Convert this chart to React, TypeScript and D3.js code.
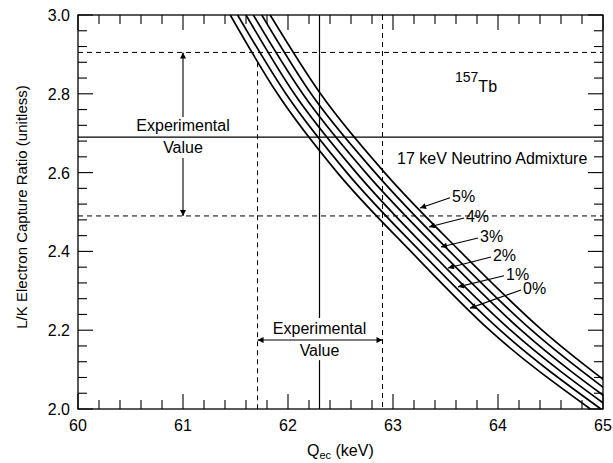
import React from 'react';
import * as d3 from 'd3';

const ratioLevels = [3.0, 2.8, 2.6, 2.4, 2.2, 2.0];

// Q_ec (keV) of each admixture curve at the ratio levels above
const q0 = [61.45, 61.90, 62.47, 63.17, 63.92, 64.88];
const q1 = [61.52, 61.98, 62.56, 63.26, 64.02, 64.98];
const q2 = [61.60, 62.06, 62.65, 63.35, 64.12, 65.08];
const q3 = [61.67, 62.14, 62.74, 63.45, 64.22, 65.18];
const q4 = [61.75, 62.22, 62.83, 63.54, 64.32, 65.28];
const q5 = [61.83, 62.31, 62.92, 63.64, 64.42, 65.38];
const curves = [q0, q1, q2, q3, q4, q5];

const admixLabels = ['0%', '1%', '2%', '3%', '4%', '5%'];
// where each label arrow touches its curve
const tipQ = [63.733, 63.619, 63.524, 63.457, 63.343, 63.257];
const tipR = [2.256, 2.310, 2.358, 2.411, 2.462, 2.510];
// where each arrow starts, next to its label
const tailQ = [64.219, 64.057, 63.933, 63.81, 63.676, 63.543];
const tailR = [2.302, 2.338, 2.386, 2.434, 2.485, 2.536];

// experimental values
const expRatio = 2.69;
const expRatioLow = 2.49;
const expRatioHigh = 2.905;
const expQ = 62.3;
const expQLow = 61.71;
const expQHigh = 62.9;

const xTickLabels = [60, 61, 62, 63, 64, 65];
const yTickLabels = [2.0, 2.2, 2.4, 2.6, 2.8, 3.0];

const W = 613;
const H = 463;
const font = '"Liberation Sans", Arial, Helvetica, sans-serif';

export default function App() {
  const left = 78, right = 603, top = 15, bottom = 409;

  const x = d3.scaleLinear().domain([60, 65]).range([left, right]);
  const y = d3.scaleLinear().domain([2, 3]).range([bottom, top]);

  const line = d3.line<[number, number]>()
    .x(d => x(d[0]))
    .y(d => y(d[1]))
    .curve(d3.curveMonotoneX);

  const xMinor = d3.range(0, 26).map(i => 60 + i * 0.2);
  const yMinor = d3.range(0, 26).map(i => 2 + i * 0.04);
  const isMajor = (v: number, step: number) => Math.abs(v / step - Math.round(v / step)) < 1e-6;

  const minorLen = 9, majorLen = 15;

  return (
    <svg width={W} height={H} style={{ position: 'absolute', left: 0, top: 0, background: '#fff' }}
      fontFamily={font}>
      <defs>
        <clipPath id="plot">
          <rect x={left} y={top} width={right - left} height={bottom - top} />
        </clipPath>
        <marker id="arrow" viewBox="0 0 10 10" refX="10" refY="5" markerWidth="8" markerHeight="6"
          markerUnits="userSpaceOnUse" orient="auto-start-reverse">
          <path d="M0,0 L10,5 L0,10 z" fill="#000" />
        </marker>
      </defs>

      {/* experimental reference lines */}
      <g stroke="#000" fill="none">
        <line x1={left} x2={right} y1={y(expRatio)} y2={y(expRatio)} strokeWidth={1.2} />
        <line x1={left} x2={right} y1={y(expRatioHigh)} y2={y(expRatioHigh)} strokeWidth={1} strokeDasharray="5,4" />
        <line x1={left} x2={right} y1={y(expRatioLow)} y2={y(expRatioLow)} strokeWidth={1} strokeDasharray="5,4" />
        <line x1={x(expQ)} x2={x(expQ)} y1={y(3)} y2={y(2.231)} strokeWidth={1.2} />
        <line x1={x(expQ)} x2={x(expQ)} y1={y(2.124)} y2={y(2)} strokeWidth={1.2} />
        <line x1={x(expQLow)} x2={x(expQLow)} y1={y(2.88)} y2={y(2)} strokeWidth={1} strokeDasharray="5,4" />
        <line x1={x(expQHigh)} x2={x(expQHigh)} y1={y(3)} y2={y(2)} strokeWidth={1} strokeDasharray="5,4" />
      </g>

      {/* admixture curves */}
      <g clipPath="url(#plot)" fill="none" stroke="#000" strokeWidth={1.7}>
        {curves.map((qs, i) => (
          <path key={i} d={line(qs.map((q, j) => [q, ratioLevels[j]] as [number, number])) || ''} />
        ))}
      </g>

      {/* frame */}
      <rect x={left} y={top} width={right - left} height={bottom - top} fill="none" stroke="#000" strokeWidth={1.3} />

      {/* ticks */}
      <g stroke="#000" strokeWidth={1.1}>
        {xMinor.map((v, i) => {
          const len = isMajor(v, 1) ? majorLen : minorLen;
          return (
            <g key={'x' + i}>
              <line x1={x(v)} x2={x(v)} y1={bottom} y2={bottom - len} />
              <line x1={x(v)} x2={x(v)} y1={top} y2={top + len} />
            </g>
          );
        })}
        {yMinor.map((v, i) => {
          const len = isMajor(v, 0.2) ? majorLen : minorLen;
          return (
            <g key={'y' + i}>
              <line x1={left} x2={left + len} y1={y(v)} y2={y(v)} />
              <line x1={right} x2={right - len} y1={y(v)} y2={y(v)} />
            </g>
          );
        })}
      </g>

      {/* tick labels */}
      <g fontSize={16} fill="#000">
        {xTickLabels.map(v => (
          <text key={'xl' + v} x={x(v)} y={bottom + 22} textAnchor="middle">{v}</text>
        ))}
        {yTickLabels.map(v => (
          <text key={'yl' + v} x={left - 8} y={y(v) + 6} textAnchor="end">{v.toFixed(1)}</text>
        ))}
      </g>

      {/* axis titles */}
      <text x={307} y={456} fontSize={16} fill="#000">
        Q<tspan fontSize={11} dy={3}>ec</tspan><tspan dy={-3}> (keV)</tspan>
      </text>
      <text transform={`translate(27,${207}) rotate(-90)`} textAnchor="middle" fontSize={15} fill="#000">
        L/K Electron Capture Ratio (unitless)
      </text>

      {/* isotope and legend title */}
      <text x={455} y={92} fill="#000">
        <tspan fontSize={14} dy={-10}>157</tspan><tspan fontSize={16} dy={10}>Tb</tspan>
      </text>
      <text x={397} y={164} fontSize={16} fill="#000">17 keV Neutrino Admixture</text>

      {/* admixture labels with arrows */}
      <g>
        {admixLabels.map((lab, i) => (
          <g key={lab}>
            <line x1={x(tailQ[i])} y1={y(tailR[i])} x2={x(tipQ[i])} y2={y(tipR[i])}
              stroke="#000" strokeWidth={1.1} markerEnd="url(#arrow)" />
            <text x={x(tailQ[i]) + 2} y={y(tailR[i]) + 4} fontSize={16} fill="#000">{lab}</text>
          </g>
        ))}
      </g>

      {/* upper experimental value annotation */}
      <g fontSize={16} fill="#000" textAnchor="middle">
        <text x={x(61)} y={131}>Experimental</text>
        <text x={x(61)} y={153}>Value</text>
      </g>
      <line x1={x(61)} x2={x(61)} y1={117} y2={y(expRatioHigh)} stroke="#000" strokeWidth={1.1} markerEnd="url(#arrow)" />
      <line x1={x(61)} x2={x(61)} y1={158} y2={y(expRatioLow)} stroke="#000" strokeWidth={1.1} markerEnd="url(#arrow)" />

      {/* lower experimental value annotation */}
      <g fontSize={16} fill="#000" textAnchor="middle">
        <text x={x(expQ)} y={334}>Experimental</text>
        <text x={x(expQ)} y={356}>Value</text>
      </g>
      <line x1={x(expQLow)} x2={x(expQHigh)} y1={y(2.175)} y2={y(2.175)} stroke="#000" strokeWidth={1.1}
        markerStart="url(#arrow)" markerEnd="url(#arrow)" />
    </svg>
  );
}
